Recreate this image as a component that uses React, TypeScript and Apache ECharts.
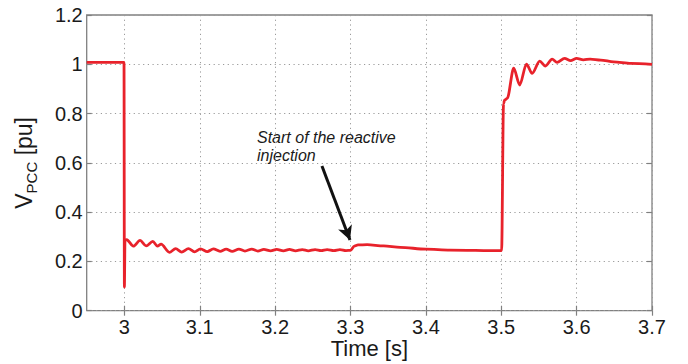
import React, { useEffect, useRef } from "react";
import * as echarts from "echarts";

// Voltage at the point of common coupling during the fault (time in s, value in pu)
const timeS: number[] = [
  2.95, 2.9995, 3.0, 3.0008, 3.0031, 3.0119, 3.0208, 3.0288, 3.0377, 3.0438,
  3.0487, 3.0597, 3.068, 3.076, 3.085, 3.093, 3.101, 3.11, 3.118, 3.127,
  3.135, 3.143, 3.152, 3.16, 3.169, 3.177, 3.185, 3.194, 3.202, 3.211,
  3.219, 3.227, 3.236, 3.244, 3.253, 3.261, 3.269, 3.278, 3.286, 3.294,
  3.3, 3.305, 3.31, 3.322, 3.344, 3.366, 3.4, 3.432, 3.4995, 3.5005,
  3.503, 3.5045, 3.508, 3.5165, 3.5245, 3.5334, 3.541, 3.551, 3.5586, 3.5675,
  3.574, 3.584, 3.592, 3.6, 3.609, 3.618, 3.632, 3.649, 3.672, 3.7,
];
const vpcc: number[] = [
  1.008, 1.008, 0.096, 0.287, 0.288, 0.262, 0.285, 0.263, 0.281, 0.262,
  0.27, 0.237, 0.252, 0.238, 0.252, 0.239, 0.251, 0.24, 0.251, 0.241,
  0.25, 0.241, 0.25, 0.242, 0.25, 0.242, 0.249, 0.243, 0.249, 0.243,
  0.249, 0.243, 0.248, 0.243, 0.248, 0.244, 0.248, 0.244, 0.248, 0.244,
  0.245, 0.262, 0.267, 0.268, 0.263, 0.257, 0.25, 0.246, 0.2435, 0.245,
  0.84, 0.855, 0.862, 0.984, 0.916, 1.001, 0.963, 1.013, 0.993, 1.021,
  1.008, 1.024, 1.015, 1.024, 1.018, 1.021, 1.017, 1.01, 1.004, 1.0,
];

const xTicks: number[] = [3, 3.1, 3.2, 3.3, 3.4, 3.5, 3.6, 3.7];
const yTicks: number[] = [0, 0.2, 0.4, 0.6, 0.8, 1, 1.2];

// Annotation arrow, tail and head in data coordinates
const arrowFrom: [number, number] = [3.2621, 0.587];
const arrowTo: [number, number] = [3.2993, 0.287];
const noteLines: string[] = ["Start of the reactive", "injection"];

const FONT = "'Liberation Sans', Arial, Helvetica, sans-serif";
const FRAME = "#808080";
const GRID = "#9a9a9a";

export default function App() {
  const ref = useRef<HTMLDivElement>(null);

  useEffect(() => {
    if (!ref.current) return;
    const chart = echarts.init(ref.current, null, { renderer: "svg" });

    const pairs = timeS.map((t, i) => [t, vpcc[i]]);
    const xMin = 2.95;
    const xMax = 3.7;

    const baseX = {
      type: "value" as const,
      min: xMin,
      max: xMax,
      axisLine: { show: false },
    };
    const baseY = {
      type: "value" as const,
      min: yTicks[0],
      max: yTicks[yTicks.length - 1],
      interval: 0.2,
      axisLine: { show: false },
    };

    chart.setOption({
      animation: false,
      backgroundColor: "#ffffff",
      grid: {
        left: 86.7,
        right: 36,
        top: 15,
        bottom: 53.3,
        containLabel: false,
        outerBoundsMode: "none",
        show: true,
        borderColor: FRAME,
        borderWidth: 1.3,
        backgroundColor: "transparent",
      },
      xAxis: [
        {
          ...baseX,
          position: "bottom",
          name: "Time [s]",
          nameLocation: "middle",
          nameGap: 28,
          nameMoveOverlap: false,
          nameTextStyle: { fontFamily: FONT, fontSize: 22, lineHeight: 20, color: "#1a1a1a" },
          axisTick: {
            show: true,
            inside: true,
            length: 5,
            customValues: xTicks,
            lineStyle: { color: FRAME, width: 1.2 },
          },
          axisLabel: {
            customValues: xTicks,
            margin: 7,
            fontFamily: FONT,
            fontSize: 20,
            lineHeight: 18,
            color: "#1a1a1a",
            formatter: (v: number) => String(+v.toFixed(2)),
          },
          splitLine: {
            show: true,
            lineStyle: { color: GRID, type: [1.2, 3.5], width: 1 },
          },
        },
        {
          ...baseX,
          position: "top",
          axisTick: {
            show: true,
            inside: true,
            length: 5,
            customValues: xTicks,
            lineStyle: { color: FRAME, width: 1.2 },
          },
          axisLabel: { show: false },
          splitLine: { show: false },
        },
      ],
      yAxis: [
        {
          ...baseY,
          position: "left",
          name: "{v|V}{sub|PCC}{v| [pu]}",
          nameLocation: "middle",
          nameGap: 48,
          nameMoveOverlap: false,
          nameTextStyle: {
            fontFamily: FONT,
            color: "#1a1a1a",
            rich: {
              v: { fontFamily: FONT, fontSize: 23, color: "#1a1a1a", lineHeight: 30 },
              sub: {
                fontFamily: FONT,
                fontSize: 15,
                color: "#1a1a1a",
                lineHeight: 30,
                verticalAlign: "bottom",
                padding: [10, 0, 0, 0],
              },
            },
          },
          axisTick: {
            show: true,
            inside: true,
            length: 5,
            lineStyle: { color: FRAME, width: 1.2 },
          },
          axisLabel: {
            margin: 4,
            fontFamily: FONT,
            fontSize: 20,
            color: "#1a1a1a",
          },
          splitLine: {
            show: true,
            lineStyle: { color: GRID, type: [1.2, 3.5], width: 1 },
          },
        },
        {
          ...baseY,
          position: "right",
          axisTick: {
            show: true,
            inside: true,
            length: 5,
            lineStyle: { color: FRAME, width: 1.2 },
          },
          axisLabel: { show: false },
          splitLine: { show: false },
        },
      ],
      graphic: [
        {
          type: "text",
          left: 257,
          top: 128,
          silent: true,
          style: {
            text: noteLines.join("\n"),
            font: `italic 16px ${FONT}`,
            fill: "#1a1a1a",
            lineHeight: 18,
          },
        },
      ],
      series: [
        {
          type: "line",
          xAxisIndex: 0,
          yAxisIndex: 0,
          data: pairs,
          showSymbol: false,
          smooth: 0.3,
          smoothMonotone: "x",
          lineStyle: { color: "#e8222b", width: 2.8 },
          itemStyle: { color: "#e8222b" },
          z: 3,
          markLine: {
            silent: true,
            symbol: ["none", "arrow"],
            symbolSize: [11, 14],
            label: { show: false },
            lineStyle: { color: "#111111", width: 3, type: "solid" },
            data: [[{ coord: arrowFrom }, { coord: arrowTo }]],
          },
        },
      ],
    });

    return () => chart.dispose();
  }, []);

  return <div ref={ref} style={{ width: 688, height: 364, position: "absolute", left: 0, top: 0 }} />;
}
